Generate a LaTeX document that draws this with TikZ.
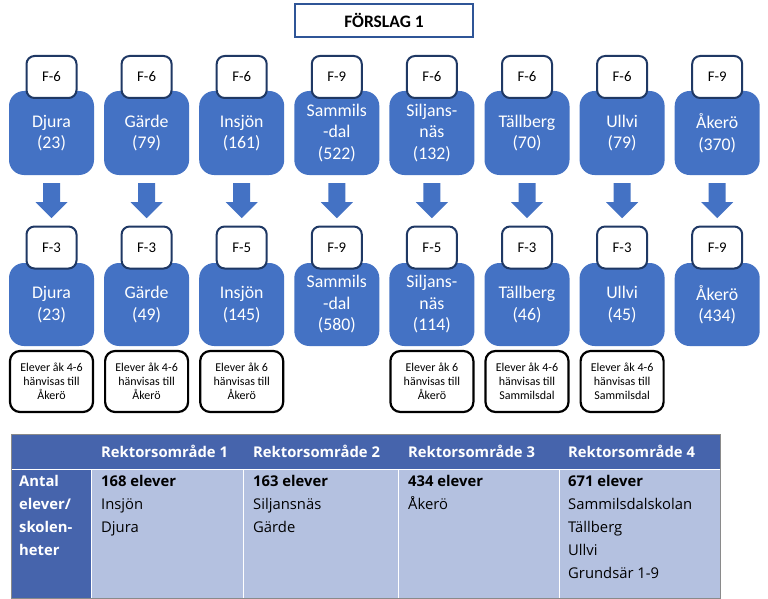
\documentclass[tikz,border=0pt]{standalone}
\usepackage{fontspec}
\setmainfont{Carlito}
\newfontfamily\tabfont{Open Sans}
\usetikzlibrary{calc}
\definecolor{boxblue}{HTML}{4472C4}
\definecolor{navy}{HTML}{1F3864}
\definecolor{titleborder}{HTML}{2F5597}
\definecolor{hdr}{HTML}{4664AC}
\definecolor{cellc}{HTML}{B4C1E0}
\definecolor{tabline}{HTML}{8A8A8A}
\begin{document}
\begin{tikzpicture}[x=1pt,y=-1pt,
  bluebox/.style={rectangle, rounded corners=15pt, fill=boxblue, text=white,
    minimum width=85pt, inner sep=0pt, align=center,
    font=\fontsize{17.8}{21.5}\selectfont},
  gradebox/.style={rectangle, rounded corners=8pt, draw=navy, line width=2pt,
    fill=white, minimum width=50pt, minimum height=42pt, inner sep=0pt,
    font=\fontsize{14.8}{17}\selectfont},
  notebox/.style={rectangle, rounded corners=10pt, draw=black, line width=2.2pt,
    fill=white, minimum width=83pt, minimum height=61pt, inner sep=0pt,
    align=center, font=\fontsize{12}{14}\selectfont},
  titlebox/.style={rectangle, draw=titleborder, line width=2pt, fill=white,
    minimum width=178pt, minimum height=33pt, inner sep=0pt,
    font=\fontsize{17.5}{20}\selectfont\bfseries},
  arr/.style={fill=boxblue},
  hdrtext/.style={anchor=base west, inner sep=0pt, text=white,
    font=\tabfont\fontsize{14.8}{23}\selectfont\bfseries},
  celltext/.style={anchor=north west, inner sep=0pt, align=left,
    font=\tabfont\fontsize{14.8}{23}\selectfont},
  sidetext/.style={anchor=north west, inner sep=0pt, align=left, text=white,
    font=\tabfont\fontsize{14.8}{23}\selectfont\bfseries},
  sep/.style={draw=white, line width=1pt},
  ]
\fill[white] (0,0) rectangle (768,599);
\useasboundingbox (0,0) rectangle (768,599);

% title
\node[titlebox] (title) at (384,20.5) {FÖRSLAG 1};

% top row
\foreach \i/\x/\txt/\lab in {
  0/51.5/{Djura\\(23)}/F-6,
  1/146.6/{Gärde\\(79)}/F-6,
  2/241.7/{Insjön\\(161)}/F-6,
  3/336.8/{Sammils\\-dal\\(522)}/F-9,
  4/431.9/{Siljans-\\näs\\(132)}/F-6,
  5/527.0/{Tällberg\\(70)}/F-6,
  6/622.1/{Ullvi\\(79)}/F-6,
  7/717.2/{Åkerö\\(370)}/F-9}{
  \node[bluebox, minimum height=84pt] (t\i) at (\x,133) {\txt};
  \node[gradebox] (tl\i) at (\x,77) {\lab};
}

% bottom row
\foreach \i/\x/\txt/\lab in {
  0/51.5/{Djura\\(23)}/F-3,
  1/146.6/{Gärde\\(49)}/F-3,
  2/241.7/{Insjön\\(145)}/F-5,
  3/336.8/{Sammils\\-dal\\(580)}/F-9,
  4/431.9/{Siljans-\\näs\\(114)}/F-5,
  5/527.0/{Tällberg\\(46)}/F-3,
  6/622.1/{Ullvi\\(45)}/F-3,
  7/717.2/{Åkerö\\(434)}/F-9}{
  \node[bluebox, minimum height=83pt] (b\i) at (\x,304.5) {\txt};
  \node[gradebox] (bl\i) at (\x,247.5) {\lab};
}

% arrows
\foreach \i in {0,...,7}{
  \fill[arr] ($(t\i.south)+(-8.5,8)$) -- ++(17,0) -- ++(0,19) -- ++(7.5,0)
    -- ++(-16,16) -- ++(-16,-16) -- ++(7.5,0) -- cycle;
}

% notes
\foreach \i/\x/\txt in {
  0/51.5/{Elever åk 4-6\\hänvisas till\\Åkerö},
  1/146.6/{Elever åk 4-6\\hänvisas till\\Åkerö},
  2/241.7/{Elever åk 6\\hänvisas till\\Åkerö},
  4/431.9/{Elever åk 6\\hänvisas till\\Åkerö},
  5/527.0/{Elever åk 4-6\\hänvisas till\\Sammilsdal},
  6/622.1/{Elever åk 4-6\\hänvisas till\\Sammilsdal}}{
  \node[notebox] (n\i) at (\x,381.5) {\txt};
}

% table
\fill[hdr] (11,434) rectangle (720,469);
\fill[hdr] (11,469) rectangle (91,598);
\fill[cellc] (91,469) rectangle (720,598);
\draw[sep] (11,469) -- (720,469);
\draw[sep] (91,469) -- (91,598);
\draw[sep] (243,469) -- (243,598);
\draw[sep] (398,469) -- (398,598);
\draw[sep] (559,469) -- (559,598);
\draw[draw=tabline, line width=1pt] (11,434) rectangle (720,598);

\node[hdrtext] (h1) at (101,457) {Rektorsområde 1};
\node[hdrtext] (h2) at (253,457) {Rektorsområde 2};
\node[hdrtext] (h3) at (408,457) {Rektorsområde 3};
\node[hdrtext] (h4) at (568,457) {Rektorsområde 4};

\node[sidetext] (side) at (19,471) {\rule{0pt}{15pt}Antal\\elever/\\skolen-\\heter};
\node[celltext] (c1) at (101,471) {\rule{0pt}{15pt}\textbf{168 elever}\\Insjön\\Djura};
\node[celltext] (c2) at (253,471) {\rule{0pt}{15pt}\textbf{163 elever}\\Siljansnäs\\Gärde};
\node[celltext] (c3) at (408,471) {\rule{0pt}{15pt}\textbf{434 elever}\\Åkerö};
\node[celltext] (c4) at (568,471) {\rule{0pt}{15pt}\textbf{671 elever}\\Sammilsdalskolan\\Tällberg\\Ullvi\\Grundsär 1-9};
\end{tikzpicture}
\end{document}
